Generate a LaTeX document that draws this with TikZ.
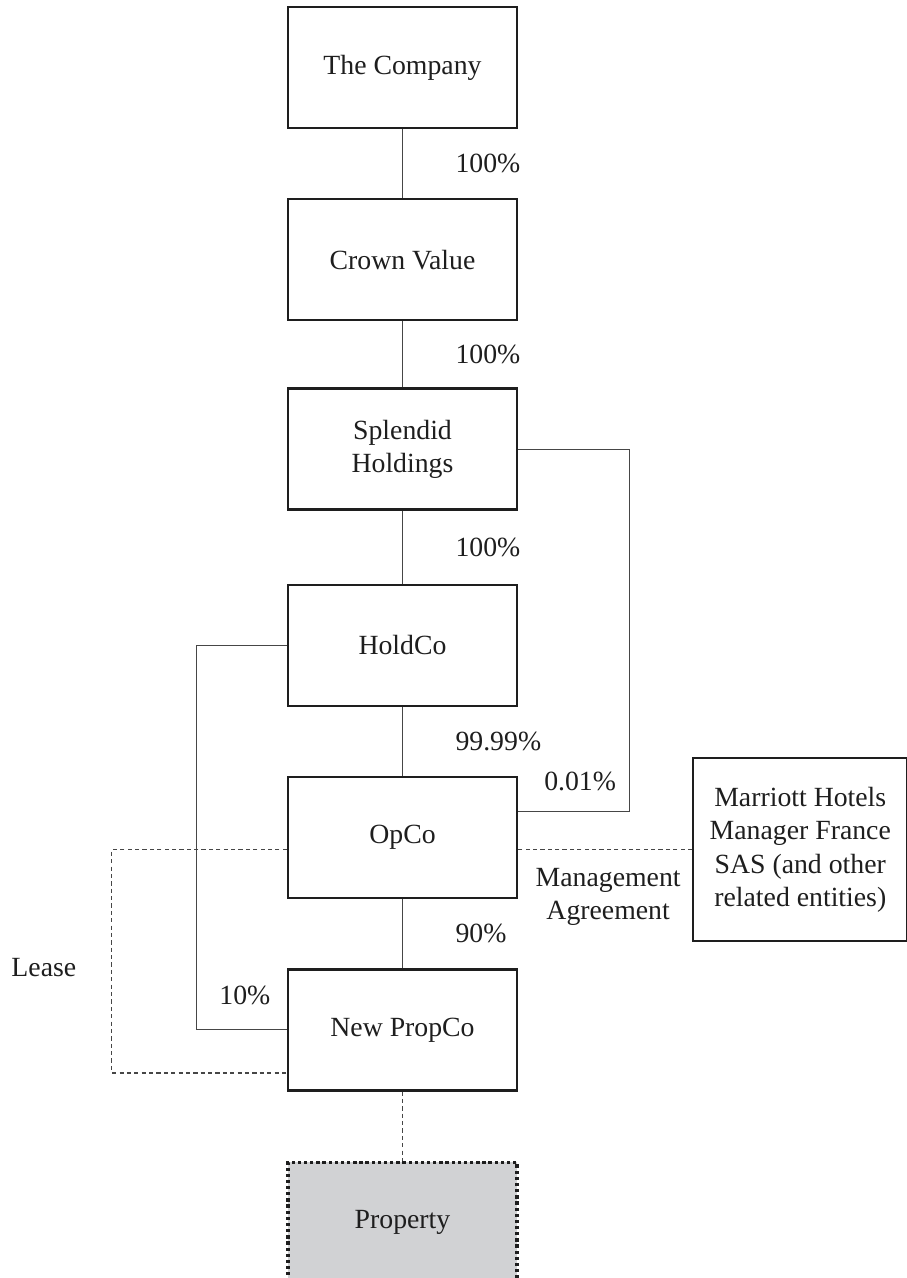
\documentclass[tikz,border=0pt]{standalone}
\usepackage{fontspec}
\setmainfont{Liberation Serif}
\usepackage{tikz}
\usetikzlibrary{positioning}
\definecolor{linegray}{RGB}{70,70,70}
\definecolor{propgray}{RGB}{209,210,212}
\definecolor{textdark}{RGB}{30,30,30}

\begin{document}
\begin{tikzpicture}[
  node distance=1.38cm,
  every node/.style={font=\fontsize{15.8}{19}\selectfont, text=textdark},
  entity/.style={draw=textdark, line width=1.3pt, minimum width=4.58cm,
                 minimum height=2.42cm, align=center, inner sep=0pt},
  link/.style={draw=linegray, line width=0.6pt},
  deal/.style={draw=linegray, line width=0.7pt, dash pattern=on 2.4pt off 1.8pt},
  own/.style={midway, anchor=west, inner sep=0pt, xshift=1.05cm},
  pct/.style={inner sep=0pt}
]
  \useasboundingbox (0,0) rectangle (18.14,-25.56);

  \node[entity] (company) at (8.05,-1.35) {The Company};
  \node[entity, below=of company]         (crown)     {Crown Value};
  \node[entity, below=1.32cm of crown]    (splendid)  {Splendid\\Holdings};
  \node[entity, below=1.46cm of splendid] (holdco)    {HoldCo};
  \node[entity, below=of holdco]          (opco)      {OpCo};
  \node[entity, below=of opco]            (newpropco) {New PropCo};
  \node[entity, below=of newpropco, fill=propgray, line width=1.9pt,
        dash pattern=on 1.9pt off 1.6pt] (property) {Property};
  \node[entity, right=3.48cm of opco, yshift=-0.24cm, minimum width=4.28cm,
        minimum height=3.66cm] (manager)
    {Marriott Hotels\\Manager France\\SAS (and other\\related entities)};

  \draw[link] (company)  -- node[own]{100\%}   (crown);
  \draw[link] (crown)    -- node[own]{100\%}   (splendid);
  \draw[link] (splendid) -- node[own]{100\%}   (holdco);
  \draw[link] (holdco)   -- node[own]{99.99\%} (opco);
  \draw[link] (opco)     -- node[own]{90\%}    (newpropco);

  \draw[link] (holdco.west) -- ++(-1.8,0) |- (newpropco.west);
  \draw[link] (splendid.east) -- ++(2.22,0) |- ([yshift=0.53cm]opco.east);

  \path (opco.west |- manager.west) ++(-3.5,0) coordinate (leasetop);
  \path (newpropco.west) ++(0,-0.86) coordinate (leaseend);
  \draw[deal] (opco.west |- manager.west) -- (leasetop) |- (leaseend);
  \draw[deal] (manager.west) -- (manager.west -| opco.east);
  \draw[deal] (newpropco) -- (property);

  \node[pct] (minority) at ([xshift=1.24cm, yshift=1.13cm]opco.east) {0.01\%};
  \node[pct] (tenpct) at ([xshift=-0.84cm, yshift=0.68cm]newpropco.west) {10\%};
  \node (lease) at ([xshift=-1.36cm, yshift=-2.36cm]leasetop) {Lease};
  \node[align=center] (mgmt) at ([xshift=-1.68cm, yshift=-0.94cm]manager.west)
    {Management\\Agreement};
\end{tikzpicture}
\end{document}
